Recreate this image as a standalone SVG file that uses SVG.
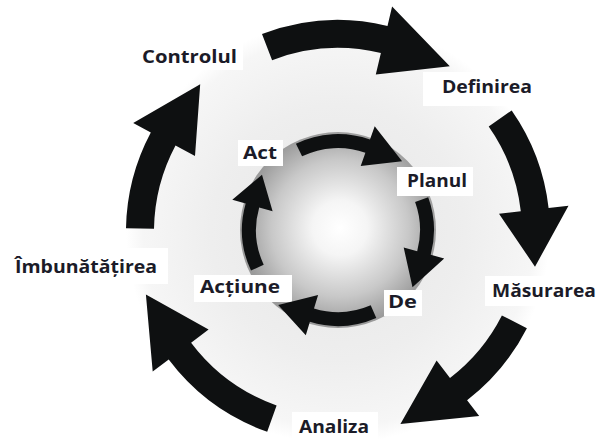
<svg xmlns="http://www.w3.org/2000/svg" width="605" height="440" viewBox="0 0 605 440">
<defs>
<radialGradient id="halo" cx="338" cy="232" r="212" gradientUnits="userSpaceOnUse">
<stop offset="0" stop-color="#e6e6e6"/>
<stop offset="0.6" stop-color="#eeeeee"/>
<stop offset="0.92" stop-color="#f6f6f6"/>
<stop offset="1" stop-color="#ffffff"/>
</radialGradient>
<radialGradient id="sphere" cx="340" cy="228" r="98" gradientUnits="userSpaceOnUse">
<stop offset="0" stop-color="#ffffff"/>
<stop offset="0.28" stop-color="#f5f5f5"/>
<stop offset="0.7" stop-color="#c8c8c8"/>
<stop offset="1" stop-color="#9a9a9a"/>
</radialGradient>
</defs>
<style>
.arrow{fill:#0e1011;stroke:none}
.box{fill:#ffffff}
.lbl{font-family:"Open Sans","Noto Sans","Liberation Sans",sans-serif;font-weight:bold;font-size:18px;fill:#1b1b28}
</style>
<rect width="605" height="440" fill="#ffffff"/>
<circle cx="338" cy="232" r="212" fill="url(#halo)"/>
<circle cx="338" cy="230" r="98" fill="url(#sphere)"/>
<g id="label-boxes">
<rect class="box" x="137" y="42" width="106" height="28"/>
<rect class="box" x="423" y="72" width="117" height="34"/>
<rect class="box" x="485" y="276" width="120" height="30"/>
<rect class="box" x="292" y="412" width="86" height="28"/>
<rect class="box" x="10" y="248" width="158" height="36"/>
<rect class="box" x="238" y="140" width="45" height="26"/>
<rect class="box" x="397" y="167" width="76" height="29"/>
<rect class="box" x="384" y="290" width="38" height="26"/>
<rect class="box" x="194" y="275" width="98" height="27"/>
</g>
<g id="connectors">
<path class="arrow" d="M262.0,34.1 A212,212 0 0 1 387.5,25.9 L392.1,6.4 L449.8,66.2 L375.8,74.5 L380.9,53.1 A184,184 0 0 0 272.1,60.2 Z"/>
<path class="arrow" d="M511.7,110.4 A212,212 0 0 1 548.6,208.0 L568.5,205.7 L535.0,266.7 L499.0,213.7 L520.8,211.2 A184,184 0 0 0 488.7,126.5 Z"/>
<path class="arrow" d="M526.9,328.2 A212,212 0 0 1 467.1,400.2 L479.2,416.1 L400.4,424.1 L436.6,360.5 L450.0,378.0 A184,184 0 0 0 501.9,315.5 Z"/>
<path class="arrow" d="M267.2,431.8 A212,212 0 0 1 168.7,359.6 L152.7,371.6 L145.9,294.4 L208.6,329.5 L191.1,342.7 A184,184 0 0 0 276.6,405.4 Z"/>
<path class="arrow" d="M126.0,228.3 A212,212 0 0 1 150.8,132.5 L133.2,123.1 L200.2,84.3 L195.0,155.9 L175.5,145.6 A184,184 0 0 0 154.0,228.8 Z"/>
<path class="arrow" d="M295.9,143.7 A96,96 0 0 1 370.0,139.5 L374.7,126.3 L402.1,161.2 L360.7,165.9 L365.4,152.7 A82,82 0 0 0 302.1,156.3 Z"/>
<path class="arrow" d="M428.2,197.2 A96,96 0 0 1 430.7,254.8 L444.2,258.5 L412.5,287.3 L403.7,247.6 L417.2,251.2 A82,82 0 0 0 415.1,202.0 Z"/>
<path class="arrow" d="M376.3,318.0 A96,96 0 0 1 309.9,321.8 L305.8,335.2 L278.2,305.1 L318.1,295.0 L314.0,308.4 A82,82 0 0 0 370.7,305.2 Z"/>
<path class="arrow" d="M251.0,270.6 A96,96 0 0 1 245.7,203.5 L232.3,199.7 L262.0,174.7 L272.6,211.3 L259.2,207.4 A82,82 0 0 0 263.7,264.7 Z"/>
</g>
<g id="node-controlul"><text class="lbl" x="142" y="63" textLength="95" lengthAdjust="spacingAndGlyphs">Controlul</text></g>
<g id="node-definirea"><text class="lbl" x="442" y="93" textLength="90" lengthAdjust="spacingAndGlyphs">Definirea</text></g>
<g id="node-masurarea"><text class="lbl" x="492" y="297" textLength="104" lengthAdjust="spacingAndGlyphs">Măsurarea</text></g>
<g id="node-analiza"><text class="lbl" x="299" y="433" textLength="70" lengthAdjust="spacingAndGlyphs">Analiza</text></g>
<g id="node-imbunatatirea"><text class="lbl" x="15" y="273" textLength="142" lengthAdjust="spacingAndGlyphs">Îmbunătățirea</text></g>
<g id="node-act"><text class="lbl" x="243" y="159" textLength="34" lengthAdjust="spacingAndGlyphs">Act</text></g>
<g id="node-planul"><text class="lbl" x="407" y="187" textLength="60" lengthAdjust="spacingAndGlyphs">Planul</text></g>
<g id="node-de"><text class="lbl" x="388" y="308" textLength="29" lengthAdjust="spacingAndGlyphs">De</text></g>
<g id="node-actiune"><text class="lbl" x="200" y="293" textLength="80" lengthAdjust="spacingAndGlyphs">Acțiune</text></g>
</svg>
